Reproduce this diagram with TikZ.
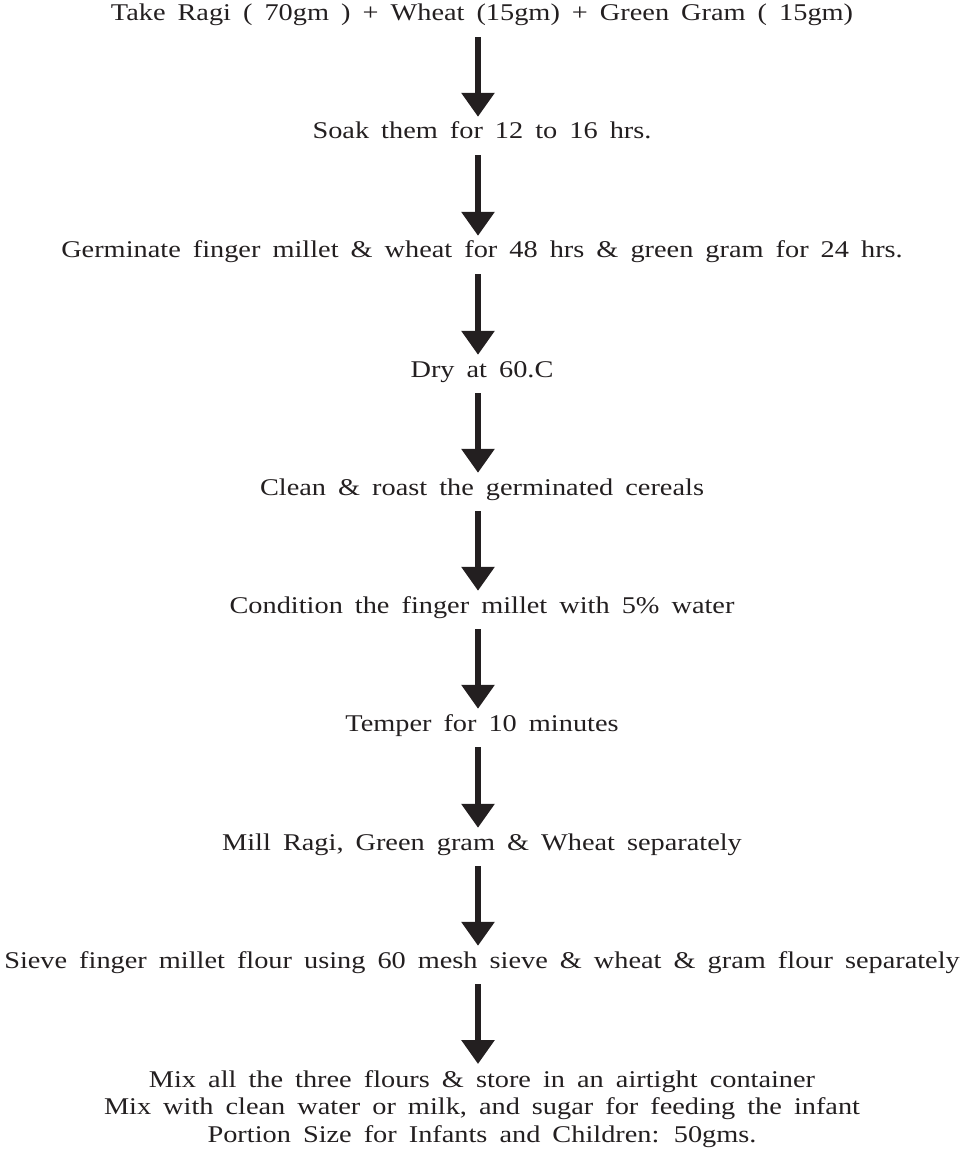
\documentclass[tikz,border=0pt]{standalone}
\usepackage{fontspec}
\setmainfont[FakeStretch=1.18, WordSpace=1.7]{Liberation Serif}
\usetikzlibrary{arrows.meta}
\definecolor{inkblack}{RGB}{35,31,32}
\tikzset{
    plaintext/.style={font=\fontsize{24}{27.5}\selectfont, text=inkblack, inner sep=0pt, align=center},
    steptext/.style={plaintext, text height=16pt, text depth=5pt, anchor=base},
    flowarrow/.style={-{Triangle[width=32pt,length=24pt]}, line width=6pt, draw=inkblack, shorten <=11pt, shorten >=6pt}
}
\begin{document}
\begin{tikzpicture}[x=1pt, y=1pt]
    \useasboundingbox (0,0) rectangle (964,-1158);
    \node[steptext] (take) at (482,-21) {Take Ragi ( 70gm ) + Wheat (15gm) + Green Gram ( 15gm)};
    \node[steptext] (soak) at (482,-139) {Soak them for 12 to 16 hrs.};
    \node[steptext] (germ) at (482,-258) {Germinate finger millet \& wheat for 48 hrs \& green gram for 24 hrs.};
    \node[steptext] (dry) at (482,-377) {Dry at 60.C};
    \node[steptext] (roast) at (482,-495) {Clean \& roast the germinated cereals};
    \node[steptext] (cond) at (482,-613) {Condition the finger millet with 5\% water};
    \node[steptext] (temper) at (482,-731) {Temper for 10 minutes};
    \node[steptext] (mix) at (482,-850) {Mill Ragi, Green gram \& Wheat separately};
    \node[steptext] (sieve) at (482,-968) {Sieve finger millet flour using 60 mesh sieve \& wheat \& gram flour separately};
    \node[plaintext, anchor=north] (store) at (482,-1070) {Mix all the three flours \& store in an airtight container\\Mix with clean water or milk, and sugar for feeding the infant\\Portion Size for Infants and Children: 50gms.};
    \draw[flowarrow] ([xshift=-4pt]take.south) -- ([xshift=-4pt]soak.north);
    \draw[flowarrow] ([xshift=-4pt]soak.south) -- ([xshift=-4pt]germ.north);
    \draw[flowarrow] ([xshift=-4pt]germ.south) -- ([xshift=-4pt]dry.north);
    \draw[flowarrow] ([xshift=-4pt]dry.south) -- ([xshift=-4pt]roast.north);
    \draw[flowarrow] ([xshift=-4pt]roast.south) -- ([xshift=-4pt]cond.north);
    \draw[flowarrow] ([xshift=-4pt]cond.south) -- ([xshift=-4pt]temper.north);
    \draw[flowarrow] ([xshift=-4pt]temper.south) -- ([xshift=-4pt]mix.north);
    \draw[flowarrow] ([xshift=-4pt]mix.south) -- ([xshift=-4pt]sieve.north);
    \draw[flowarrow] ([xshift=-4pt]sieve.south) -- ([xshift=-4pt]store.north);
\end{tikzpicture}
\end{document}
